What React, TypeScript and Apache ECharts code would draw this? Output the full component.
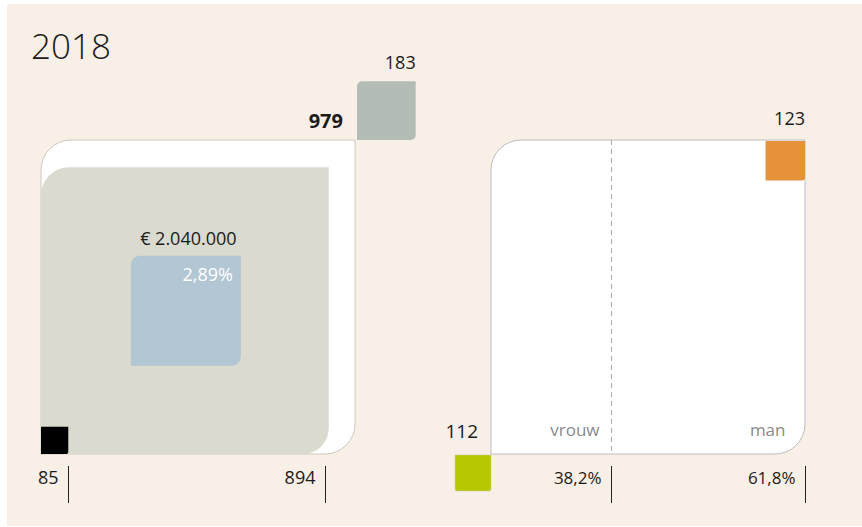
import React, { useEffect, useRef } from "react";
import * as echarts from "echarts";

// ---- data ----
const yearTitle = "2018";
const totalEmployees = 979;
const employeeGroups = [85, 894];
const extraCount = 183;
const budgetLabel = "€ 2.040.000";
const budgetShareLabel = "2,89%";
const budgetSquareSide = 343;
const genderCategories = ["vrouw", "man"];
const genderShares = [38.2, 61.8];
const genderShareLabels = ["38,2%", "61,8%"];
const genderMarkers = [112, 123];

const FONT = "'Open Sans', 'Noto Sans', sans-serif";
const INK = "#1b1b1b";

function txt(text: string, x: number, y: number, extra: any = {}) {
  return {
    type: "text",
    style: {
      text,
      x,
      y,
      fontFamily: FONT,
      fontSize: 18,
      fill: INK,
      align: "right",
      verticalAlign: "middle",
      ...extra,
    },
  };
}

function leftPanel(params: any, api: any) {
  const T = totalEmployees;
  const children: any[] = [];
  const tl = api.coord([0, T]);
  const full = api.size([T, T]);
  const bl = api.coord([0, 0]);
  children.push({
    type: "rect",
    shape: { x: tl[0], y: tl[1], width: full[0], height: full[1], r: [30, 0, 30, 0] },
    style: { fill: "#ffffff", stroke: "#cdc8bd", lineWidth: 1 },
  });
  const big = employeeGroups[1];
  const bTL = api.coord([0, big]);
  const bs = api.size([big, big]);
  children.push({
    type: "rect",
    shape: { x: bTL[0], y: bTL[1], width: bs[0] + 1, height: bs[1], r: [28, 0, 26, 0] },
    style: { fill: "#dadacf" },
  });
  const c = api.coord([big / 2, big / 2]);
  const ss = api.size([budgetSquareSide, budgetSquareSide]);
  const bx = c[0] - ss[0] / 2 + 1.5;
  const by = c[1] - ss[1] / 2;
  children.push({
    type: "rect",
    shape: { x: bx, y: by, width: ss[0], height: ss[1], r: [9, 0, 9, 0] },
    style: { fill: "#b3c6d3" },
  });
  children.push(txt(budgetLabel, c[0] + 4, by - 18, { align: "center" }));
  children.push(txt(budgetShareLabel, bx + ss[0] - 8, by + 18, { fill: "#ffffff" }));
  const sm = employeeGroups[0];
  const sTL = api.coord([0, sm]);
  const smS = api.size([sm, sm]);
  children.push({
    type: "rect",
    shape: { x: sTL[0], y: sTL[1], width: smS[0], height: smS[1], r: [0, 0, 2, 0] },
    style: { fill: "#000000" },
  });
  const eTL = api.coord([T, T + extraCount]);
  const es = api.size([extraCount, extraCount]);
  children.push({
    type: "rect",
    shape: { x: eTL[0] + 2, y: eTL[1], width: es[0], height: es[1], r: [5, 0, 5, 0] },
    style: { fill: "#b4bdb5" },
  });
  children.push(txt(String(extraCount), eTL[0] + 2 + es[0], eTL[1] - 19));
  children.push(txt(String(totalEmployees), tl[0] + full[0] - 12, tl[1] - 20, { fontWeight: "bold", fontSize: 20 }));
  employeeGroups.forEach((v, i) => {
    const p = api.coord([v, 0]);
    const lx = Math.round(p[0]) - (i === employeeGroups.length - 1 ? 3 : 0) + 0.5;
    children.push({
      type: "line",
      shape: { x1: lx, y1: bl[1] + 12, x2: lx, y2: bl[1] + 49 },
      style: { stroke: "#222", lineWidth: 1 },
    });
    children.push(txt(String(v), lx - 10, bl[1] + 23));
  });
  return { type: "group", children };
}

function rightPanel(params: any, api: any) {
  const T = totalEmployees;
  const children: any[] = [];
  const tl = api.coord([0, T]);
  const full = api.size([100, T]);
  const bl = api.coord([0, 0]);
  children.push({
    type: "rect",
    shape: { x: tl[0], y: tl[1], width: full[0], height: full[1], r: [30, 0, 30, 0] },
    style: { fill: "#ffffff", stroke: "#bdbdbd", lineWidth: 1 },
  });
  let cum = 0;
  genderShares.forEach((s, i) => {
    cum += s;
    const p = api.coord([cum, 0]);
    const lx = Math.round(p[0]) + 0.5;
    const last = i === genderShares.length - 1;
    if (!last) {
      children.push({
        type: "line",
        shape: { x1: lx, y1: tl[1], x2: lx, y2: bl[1] },
        style: { stroke: "#ababab", lineWidth: 1, lineDash: [5, 4] },
      });
    }
    children.push(txt(genderCategories[i], lx - (last ? 20 : 12), bl[1] - 25, { fill: "#8a8a8a", fontSize: 17 }));
    children.push({
      type: "line",
      shape: { x1: lx, y1: bl[1] + 12, x2: lx, y2: bl[1] + 49 },
      style: { stroke: "#222", lineWidth: 1 },
    });
    children.push(txt(genderShareLabels[i], lx - 10, bl[1] + 23, { fontSize: 17 }));
  });
  const gs = api.size([0, genderMarkers[0]])[1];
  children.push({
    type: "rect",
    shape: { x: bl[0] - gs, y: bl[1] + 1, width: gs, height: gs, r: [0, 0, 2, 2] },
    style: { fill: "#b8c800", stroke: "#c9c39a", lineWidth: 0.5 },
  });
  children.push(txt(String(genderMarkers[0]), bl[0] - 13, bl[1] - 23, { fontSize: 19 }));
  const os = api.size([0, genderMarkers[1]])[1];
  const rx = tl[0] + full[0];
  children.push({
    type: "rect",
    shape: { x: rx - os, y: tl[1] + 1, width: os, height: os, r: [0, 0, 3, 0] },
    style: { fill: "#e6923b" },
  });
  children.push(txt(String(genderMarkers[1]), rx, tl[1] - 22));
  return { type: "group", children };
}

export default function App() {
  const ref = useRef<HTMLDivElement>(null);
  useEffect(() => {
    if (!ref.current) return;
    const chart = echarts.init(ref.current, null, { renderer: "svg" });
    chart.setOption({
      animation: false,
      graphic: [
        {
          type: "rect",
          z: -10,
          shape: { x: 7, y: 4, width: 855, height: 522 },
          style: { fill: "#f8efe6" },
        },
        {
          type: "text",
          left: 31,
          top: 28,
          style: { text: yearTitle, fontFamily: FONT, fontSize: 35, fontWeight: 300, fill: INK },
        },
      ],
      grid: [
        { left: 41, top: 140, width: 314, height: 314 },
        { left: 491, top: 140, width: 314, height: 314 },
      ],
      xAxis: [
        { type: "value", gridIndex: 0, min: 0, max: totalEmployees, show: false },
        { type: "value", gridIndex: 1, min: 0, max: 100, show: false },
      ],
      yAxis: [
        { type: "value", gridIndex: 0, min: 0, max: totalEmployees, show: false },
        { type: "value", gridIndex: 1, min: 0, max: totalEmployees, show: false },
      ],
      series: [
        { type: "custom", xAxisIndex: 0, yAxisIndex: 0, data: [[0, 0]], renderItem: leftPanel, clip: false, silent: true },
        { type: "custom", xAxisIndex: 1, yAxisIndex: 1, data: [[0, 0]], renderItem: rightPanel, clip: false, silent: true },
      ],
    });
    return () => chart.dispose();
  }, []);
  return (
    <div
      ref={ref}
      style={{ position: "absolute", left: 0, top: 0, width: 862, height: 527, background: "#ffffff" }}
    />
  );
}
